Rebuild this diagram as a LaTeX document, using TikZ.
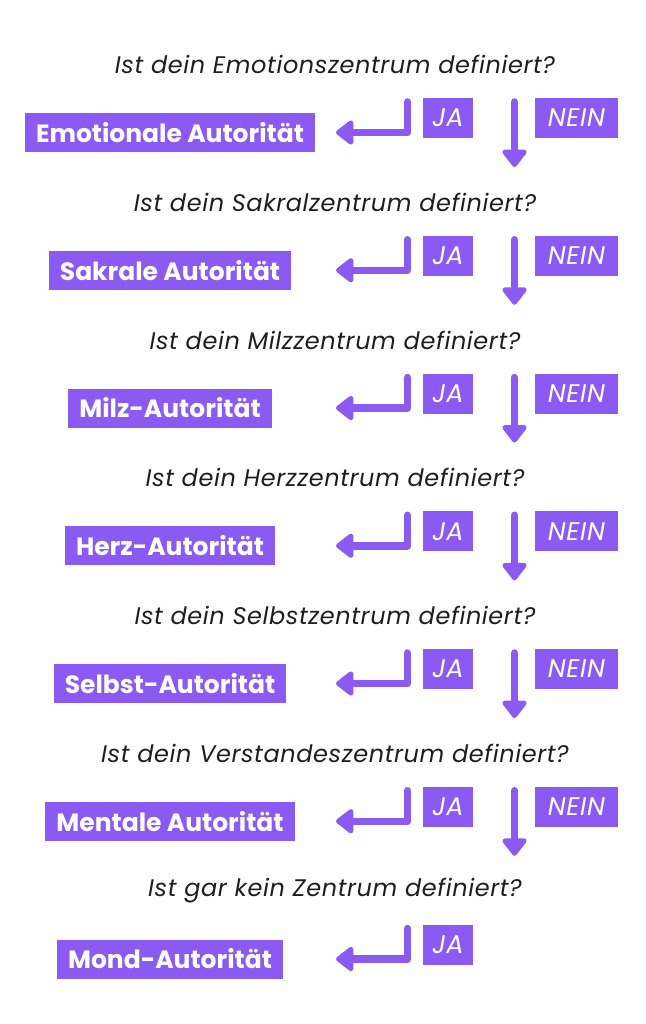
\documentclass[tikz,border=0pt]{standalone}
\usepackage{fontspec}
\setmainfont{Poppins}
\newfontfamily\weitschrift[LetterSpace=2.5]{Poppins}
\usetikzlibrary{arrows.meta}
\definecolor{lila}{HTML}{8B5AF3}
\definecolor{frage}{HTML}{1E1E1E}
\begin{document}
\begin{tikzpicture}[x=1pt, y=-1pt,
  frage/.style={text=frage, font=\weitschrift\fontsize{24}{28}\selectfont\itshape},
  autoritaet/.style={fill=lila, text=white, minimum height=39pt, inner xsep=11pt, inner ysep=0pt, font=\fontsize{25}{28}\selectfont\bfseries},
  antwort/.style={fill=lila, text=white, minimum height=40pt, inner sep=0pt, font=\weitschrift\fontsize{25.5}{28}\selectfont\itshape},
  pfeil/.style={draw=lila, line width=7.5pt, line cap=round, line join=round, -{Triangle[width=28pt,length=19pt,round]}}]

\useasboundingbox (0,0) rectangle (645,1024);

% Emotionszentrum
\node [frage] (q1) at (335,64.5) {Ist dein Emotionszentrum definiert?};
\node [autoritaet] (a1) at (170,132.5) {Emotionale Autorität};
\node [antwort, minimum width=50pt] (ja1) at (448,118) {JA};
\node [antwort, minimum width=83pt] (nein1) at (576.5,118) {NEIN};
\coordinate (ja1s) at (407.5,102);
\coordinate (ja1e) at (336,132.5);
\coordinate (nein1s) at (514.5,102);
\coordinate (nein1e) at (514.5,167);
\draw [pfeil] (ja1s) |- (ja1e);
\draw [pfeil] (nein1s) -- (nein1e);

% Sakralzentrum
\node [frage] (q2) at (335,202.25) {Ist dein Sakralzentrum definiert?};
\node [autoritaet] (a2) at (170,270.25) {Sakrale Autorität};
\node [antwort, minimum width=50pt] (ja2) at (448,255.75) {JA};
\node [antwort, minimum width=83pt] (nein2) at (576.5,255.75) {NEIN};
\coordinate (ja2s) at (407.5,239.75);
\coordinate (ja2e) at (336,270.25);
\coordinate (nein2s) at (514.5,239.75);
\coordinate (nein2e) at (514.5,304.75);
\draw [pfeil] (ja2s) |- (ja2e);
\draw [pfeil] (nein2s) -- (nein2e);

% Milzzentrum
\node [frage] (q3) at (335,340) {Ist dein Milzzentrum definiert?};
\node [autoritaet] (a3) at (170,408) {Milz-Autorität};
\node [antwort, minimum width=50pt] (ja3) at (448,393.5) {JA};
\node [antwort, minimum width=83pt] (nein3) at (576.5,393.5) {NEIN};
\coordinate (ja3s) at (407.5,377.5);
\coordinate (ja3e) at (336,408);
\coordinate (nein3s) at (514.5,377.5);
\coordinate (nein3e) at (514.5,442.5);
\draw [pfeil] (ja3s) |- (ja3e);
\draw [pfeil] (nein3s) -- (nein3e);

% Herzzentrum
\node [frage] (q4) at (335,477.75) {Ist dein Herzzentrum definiert?};
\node [autoritaet] (a4) at (170,545.75) {Herz-Autorität};
\node [antwort, minimum width=50pt] (ja4) at (448,531.25) {JA};
\node [antwort, minimum width=83pt] (nein4) at (576.5,531.25) {NEIN};
\coordinate (ja4s) at (407.5,515.25);
\coordinate (ja4e) at (336,545.75);
\coordinate (nein4s) at (514.5,515.25);
\coordinate (nein4e) at (514.5,580.25);
\draw [pfeil] (ja4s) |- (ja4e);
\draw [pfeil] (nein4s) -- (nein4e);

% Selbstzentrum
\node [frage] (q5) at (335,615.5) {Ist dein Selbstzentrum definiert?};
\node [autoritaet] (a5) at (170,683.5) {Selbst-Autorität};
\node [antwort, minimum width=50pt] (ja5) at (448,669) {JA};
\node [antwort, minimum width=83pt] (nein5) at (576.5,669) {NEIN};
\coordinate (ja5s) at (407.5,653);
\coordinate (ja5e) at (336,683.5);
\coordinate (nein5s) at (514.5,653);
\coordinate (nein5e) at (514.5,718);
\draw [pfeil] (ja5s) |- (ja5e);
\draw [pfeil] (nein5s) -- (nein5e);

% Verstandeszentrum
\node [frage] (q6) at (335,753.25) {Ist dein Verstandeszentrum definiert?};
\node [autoritaet] (a6) at (170,821.25) {Mentale Autorität};
\node [antwort, minimum width=50pt] (ja6) at (448,806.75) {JA};
\node [antwort, minimum width=83pt] (nein6) at (576.5,806.75) {NEIN};
\coordinate (ja6s) at (407.5,790.75);
\coordinate (ja6e) at (336,821.25);
\coordinate (nein6s) at (514.5,790.75);
\coordinate (nein6e) at (514.5,855.75);
\draw [pfeil] (ja6s) |- (ja6e);
\draw [pfeil] (nein6s) -- (nein6e);

% kein Zentrum
\node [frage] (q7) at (335,891) {Ist gar kein Zentrum definiert?};
\node [autoritaet] (a7) at (170,959) {Mond-Autorität};
\node [antwort, minimum width=50pt] (ja7) at (448,944.5) {JA};
\coordinate (ja7s) at (407.5,928.5);
\coordinate (ja7e) at (336,959);
\draw [pfeil] (ja7s) |- (ja7e);
\end{tikzpicture}
\end{document}
